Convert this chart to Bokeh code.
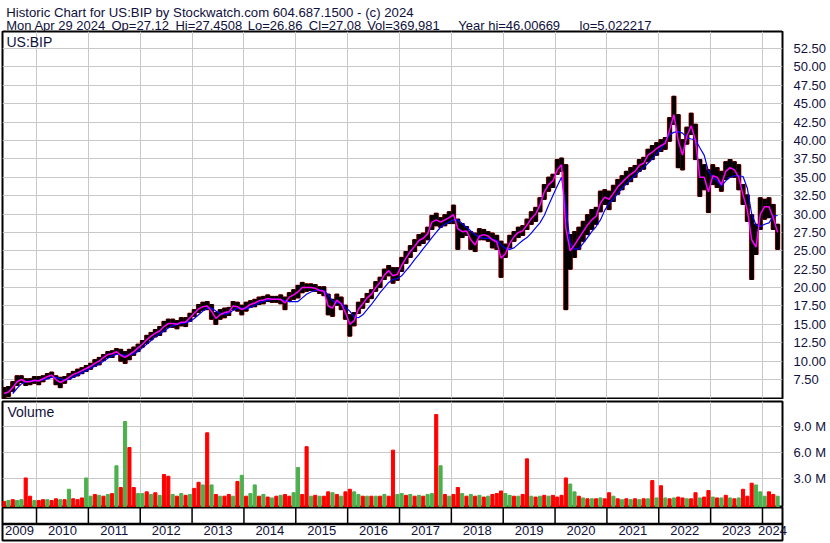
import math
from bokeh.plotting import figure
from bokeh.layouts import column
from bokeh.models import Range1d, FixedTicker, Span, Label, PrintfTickFormatter
from bokeh.core.properties import value
from bokeh.embed import file_html
from bokeh.resources import INLINE

# ---------------- texts ----------------
title_line = "Historic Chart for US:BIP by Stockwatch.com 604.687.1500 - (c) 2024"
quote_fields = ["Mon Apr 29 2024", "Op=27.12", "Hi=27.4508", "Lo=26.86", "Cl=27.08",
                "Vol=369,981", "Year hi=46.00669", "lo=5.022217"]
symbol_label = "US:BIP"
volume_label = "Volume"

# ---------------- axes ----------------
year_labels = ["2009", "2010", "2011", "2012", "2013", "2014", "2015", "2016",
               "2017", "2018", "2019", "2020", "2021", "2022", "2023", "2024"]
year_starts = [2010, 2011, 2012, 2013, 2014, 2015, 2016, 2017, 2018, 2019,
               2020, 2021, 2022, 2023, 2024]
price_ticks = [7.5, 10.0, 12.5, 15.0, 17.5, 20.0, 22.5, 25.0, 27.5, 30.0, 32.5,
               35.0, 37.5, 40.0, 42.5, 45.0, 47.5, 50.0, 52.5]
volume_ticks = [3, 6, 9]
first_month = 5  # data begins May 2009

# ---------------- monthly data ----------------
price_high = {
    2009: [6.4, 6.55, 7.2, 8.0, 8.0, 7.6, 7.6, 7.9],
    2010: [7.9, 8.0, 8.3, 8.5, 8.0, 7.8, 7.9, 8.3, 8.6, 8.9, 9.1, 9.4],
    2011: [9.7, 10.2, 10.5, 10.9, 11.3, 11.4, 11.7, 11.6, 11.3, 11.6, 11.9, 12.3],
    2012: [12.8, 13.5, 13.9, 14.3, 14.7, 15.4, 15.7, 15.7, 15.5, 15.9, 15.9, 16.5],
    2013: [17.0, 17.7, 18.0, 18.1, 17.7, 16.6, 17.0, 17.2, 17.3, 18.1, 18.0, 17.6],
    2014: [18.0, 18.2, 18.4, 18.7, 18.8, 19.0, 18.8, 18.8, 19.0, 18.7, 19.3, 19.7],
    2015: [20.3, 20.7, 20.5, 20.5, 20.4, 20.1, 20.1, 19.1, 18.4, 19.1, 18.7, 17.6],
    2016: [16.3, 16.6, 18.0, 18.5, 19.2, 19.7, 20.8, 21.4, 22.5, 23.0, 22.7, 22.7],
    2017: [24.1, 24.9, 25.7, 26.5, 27.2, 27.4, 28.2, 29.8, 30.1, 29.5, 29.9, 30.3],
    2018: [31.2, 29.3, 28.7, 28.3, 27.6, 27.4, 28.0, 27.9, 27.6, 27.4, 27.1, 26.3],
    2019: [25.9, 27.1, 27.6, 28.2, 28.4, 29.3, 30.3, 30.9, 32.2, 34.0, 35.0, 35.4],
    2020: [37.4, 37.6, 36.7, 27.2, 27.6, 28.2, 29.0, 29.9, 30.6, 30.9, 33.1, 33.3],
    2021: [33.1, 33.9, 34.7, 35.2, 35.8, 36.3, 36.6, 37.4, 37.7, 38.8, 39.3, 39.7],
    2022: [40.1, 40.4, 43.1, 46.0, 43.5, 40.1, 41.8, 43.7, 42.2, 37.4, 36.7, 36.0],
    2023: [36.7, 36.3, 35.8, 37.1, 37.4, 37.1, 36.7, 34.0, 32.6, 29.9, 28.6, 32.2],
    2024: [32.0, 32.2, 31.3, 28.6],
}
price_low = {
    2009: [5.02, 5.2, 5.9, 6.7, 7.1, 6.7, 6.8, 7.0],
    2010: [6.8, 7.2, 7.6, 7.8, 6.8, 6.4, 7.0, 7.5, 7.8, 8.0, 8.3, 8.6],
    2011: [8.9, 9.3, 9.5, 10.1, 10.5, 10.5, 10.9, 10.0, 9.7, 10.2, 10.8, 11.3],
    2012: [11.9, 12.4, 12.9, 13.3, 13.5, 14.0, 14.6, 14.6, 14.4, 14.8, 14.7, 15.4],
    2013: [16.1, 16.6, 16.9, 17.0, 15.7, 15.0, 15.7, 15.9, 16.2, 17.0, 16.8, 16.3],
    2014: [16.8, 17.3, 17.4, 17.7, 17.8, 18.1, 18.0, 18.0, 17.8, 17.0, 18.1, 18.4],
    2015: [18.6, 19.3, 19.5, 19.6, 19.5, 19.2, 18.9, 16.3, 16.1, 17.6, 17.0, 15.7],
    2016: [13.4, 14.8, 16.5, 17.2, 18.0, 18.5, 19.5, 20.0, 21.1, 21.6, 20.6, 21.0],
    2017: [22.2, 23.3, 24.1, 24.9, 25.7, 26.0, 26.5, 27.9, 28.4, 28.2, 28.4, 28.7],
    2018: [28.7, 25.2, 26.8, 27.1, 25.2, 24.9, 26.5, 26.5, 26.3, 25.4, 25.2, 21.4],
    2019: [24.1, 25.4, 26.3, 26.8, 27.1, 27.9, 28.6, 29.0, 30.3, 32.0, 33.1, 33.6],
    2020: [35.4, 35.8, 17.0, 22.5, 24.1, 25.2, 26.3, 27.2, 27.9, 28.6, 30.3, 31.3],
    2021: [30.6, 31.7, 32.7, 33.3, 34.0, 34.4, 35.0, 35.8, 36.1, 37.1, 37.4, 38.0],
    2022: [38.5, 38.8, 39.9, 42.2, 36.3, 36.0, 39.5, 40.8, 37.4, 32.4, 33.3, 30.2],
    2023: [34.0, 33.6, 33.1, 34.7, 35.0, 35.0, 33.3, 31.3, 29.0, 21.1, 24.5, 27.9],
    2024: [29.3, 29.5, 27.9, 25.2],
}
ma_fast = {
    2009: [5.6, 5.8, 6.4, 7.2, 7.5, 7.2, 7.2, 7.4],
    2010: [7.3, 7.6, 7.9, 8.1, 7.5, 7.1, 7.4, 7.8, 8.2, 8.4, 8.7, 9.0],
    2011: [9.3, 9.7, 10.0, 10.5, 10.9, 11.0, 11.3, 10.8, 10.5, 10.9, 11.3, 11.8],
    2012: [12.3, 12.9, 13.4, 13.8, 14.1, 14.7, 15.1, 15.1, 15.0, 15.3, 15.3, 15.9],
    2013: [16.5, 17.1, 17.4, 17.5, 16.8, 15.8, 16.3, 16.6, 16.7, 17.5, 17.4, 17.0],
    2014: [17.3, 17.7, 17.9, 18.2, 18.3, 18.5, 18.4, 18.4, 18.4, 17.9, 18.7, 19.0],
    2015: [19.4, 20.0, 20.0, 20.0, 19.9, 19.6, 19.5, 17.5, 17.2, 18.3, 17.8, 16.6],
    2016: [15.0, 15.5, 17.1, 17.8, 18.6, 19.1, 20.0, 20.7, 21.7, 22.3, 21.6, 21.8],
    2017: [23.0, 24.0, 24.9, 25.6, 26.4, 26.7, 27.3, 28.9, 29.2, 28.9, 29.2, 29.5],
    2018: [29.9, 28.0, 27.6, 27.7, 26.5, 25.8, 27.0, 27.2, 27.0, 26.5, 26.2, 24.0],
    2019: [24.6, 26.0, 26.9, 27.5, 27.7, 28.5, 29.4, 30.0, 31.2, 33.0, 34.0, 34.5],
    2020: [36.0, 36.7, 28.0, 25.0, 25.8, 26.7, 27.6, 28.5, 29.2, 29.7, 31.5, 32.3],
    2021: [32.0, 32.8, 33.7, 34.3, 34.9, 35.4, 35.8, 36.6, 36.9, 38.0, 38.4, 38.9],
    2022: [39.3, 39.6, 41.4, 43.5, 40.0, 38.0, 40.6, 42.0, 40.0, 35.0, 35.0, 33.0],
    2023: [35.2, 35.0, 34.0, 35.8, 36.3, 36.0, 35.0, 32.6, 30.5, 26.5, 25.5, 30.0],
    2024: [31.0, 31.0, 29.5, 27.5],
}
ma_slow = {
    2009: [None, None, 5.6, 6.3, 6.9, 7.2, 7.3, 7.3],
    2010: [7.4, 7.4, 7.6, 7.8, 7.8, 7.6, 7.4, 7.5, 7.8, 8.1, 8.4, 8.7],
    2011: [9.0, 9.3, 9.6, 10.0, 10.4, 10.7, 10.9, 10.9, 10.8, 10.8, 11.0, 11.3],
    2012: [11.8, 12.3, 12.8, 13.3, 13.7, 14.1, 14.5, 14.8, 15.0, 15.1, 15.2, 15.4],
    2013: [15.8, 16.3, 16.8, 17.2, 17.2, 16.8, 16.5, 16.4, 16.5, 16.9, 17.2, 17.2],
    2014: [17.1, 17.3, 17.6, 17.9, 18.1, 18.3, 18.4, 18.4, 18.4, 18.2, 18.1, 18.1],
    2015: [18.1, 18.6, 19.1, 19.4, 19.6, 19.7, 19.6, 19.0, 18.2, 17.9, 17.9, 17.3],
    2016: [16.8, 16.0, 15.9, 16.3, 17.0, 17.7, 18.5, 19.3, 20.0, 20.7, 21.1, 21.2],
    2017: [21.6, 22.3, 23.0, 23.8, 24.5, 25.3, 26.0, 26.8, 27.5, 28.2, 28.6, 28.9],
    2018: [29.2, 29.2, 28.7, 28.2, 27.7, 27.2, 26.8, 26.7, 26.7, 26.6, 26.4, 25.8],
    2019: [25.3, 25.2, 25.4, 25.9, 26.4, 26.8, 27.4, 28.1, 28.8, 29.8, 31.2, 32.5],
    2020: [33.8, 35.0, 31.0, 26.0, 25.2, 25.3, 26.0, 26.8, 27.6, 28.3, 29.2, 30.5],
    2021: [31.5, 32.0, 32.8, 33.5, 34.1, 34.7, 35.2, 35.8, 36.3, 36.9, 37.5, 38.2],
    2022: [38.8, 39.8, 40.8, 41.1, 41.2, 41.0, 40.4, 40.2, 40.1, 39.0, 38.0, 35.8],
    2023: [34.9, 34.6, 33.8, 34.5, 35.0, 35.2, 35.2, 35.1, 33.5, 30.0, 28.5, 28.3],
    2024: [28.6, 28.8, 29.7, 29.8],
}
volume_m = {
    2009: [0.4, 0.5, 0.6, 0.5, 0.6, 3.1, 1.0, 0.5],
    2010: [0.5, 0.6, 0.6, 0.5, 0.7, 0.6, 0.6, 1.8, 0.7, 0.6, 0.8, 3.1],
    2011: [1.0, 1.2, 1.1, 1.0, 1.2, 1.3, 4.5, 2.0, 9.6, 6.6, 2.0, 1.3],
    2012: [1.3, 1.5, 1.2, 1.4, 1.1, 3.5, 3.3, 1.2, 1.0, 1.3, 1.1, 1.2],
    2013: [1.9, 2.6, 2.3, 8.3, 2.3, 1.2, 1.0, 1.0, 1.2, 1.0, 2.7, 3.4],
    2014: [1.0, 1.3, 2.3, 1.0, 1.2, 0.9, 0.8, 1.0, 1.1, 1.2, 1.0, 1.4],
    2015: [4.3, 1.2, 6.7, 1.0, 1.1, 1.0, 1.0, 1.5, 1.4, 1.2, 1.0, 1.5],
    2016: [1.8, 1.5, 1.2, 1.0, 1.0, 1.0, 1.0, 1.0, 1.2, 1.0, 6.3, 1.2],
    2017: [1.3, 1.1, 1.2, 1.0, 1.1, 1.0, 1.2, 1.3, 10.4, 4.5, 1.2, 1.0],
    2018: [1.2, 2.0, 1.3, 1.0, 1.2, 1.0, 1.1, 0.9, 1.0, 1.2, 1.3, 1.6],
    2019: [1.3, 1.1, 1.0, 1.0, 1.2, 5.3, 1.0, 0.9, 1.0, 1.1, 1.0, 1.1],
    2020: [0.9, 1.1, 3.1, 2.4, 1.5, 1.0, 0.8, 0.7, 0.7, 0.7, 0.8, 0.7],
    2021: [1.4, 1.0, 0.7, 0.6, 0.7, 0.6, 0.7, 0.6, 0.7, 0.7, 2.8, 0.8],
    2022: [2.2, 0.8, 0.7, 0.8, 0.9, 0.8, 0.7, 0.7, 1.4, 0.8, 0.9, 1.65],
    2023: [0.9, 0.8, 0.8, 1.1, 0.8, 0.7, 0.8, 1.8, 1.0, 2.5, 2.3, 1.5],
    2024: [1.0, 1.5, 1.2, 1.0],
}
volume_dir = {  # g = up-day volume, r = down-day volume
    2009: "rgrggrrg", 2010: "rrgrrgrgrrrg", 2011: "grgrgrgrgrrg",
    2012: "grgrgrrgrgrg", 2013: "rrgrgrgrrgrg", 2014: "rggrgrgrgrrg",
    2015: "grrgrgrrgrgr", 2016: "rggrgrgrgrrg", 2017: "grgrgrggrgrg",
    2018: "rrgrgrgrgrrr", 2019: "ggrgrrgrgrgr", 2020: "rrrggrgrgrgr",
    2021: "rgrgrgrgrgrg", 2022: "rgrgrrgrrgrr", 2023: "grgrgrgrrrgg",
    2024: "grrg",
}

# ---------------- assemble monthly series ----------------
xs, hi, lo, fast, slow, vol, vcol = [], [], [], [], [], [], []
for yr in sorted(price_high):
    m0 = first_month if yr == min(price_high) else 1
    for k in range(len(price_high[yr])):
        xs.append(yr + (m0 + k - 1) / 12.0 + 1.0 / 24.0)
        hi.append(price_high[yr][k])
        lo.append(price_low[yr][k])
        fast.append(ma_fast[yr][k])
        s = ma_slow[yr][k]
        slow.append(float("nan") if s is None else s)
        vol.append(volume_m[yr][k])
        vcol.append("#4cb04c" if volume_dir[yr][k] == "g" else "#ff0000")

# ---------------- styling ----------------
FONT = "Liberation Sans"
TXT = "#10103c"
GRID = "#c8c8c8"
FRAME_W = 780
LEFT, RIGHT = 2, 48
TOTAL_W = LEFT + FRAME_W + RIGHT
x_range = Range1d(2009.344, 2024.386)
price_range = Range1d(4.92, 54.81)
vol_range = Range1d(-0.3, 11.9)


def panel(fh, top, bottom, y_range, right_axis=True, bottom_axis=False):
    p = figure(frame_width=FRAME_W, frame_height=fh, x_range=x_range, y_range=y_range,
               x_axis_location="below" if bottom_axis else None,
               y_axis_location="right" if right_axis else None,
               output_backend="svg", toolbar_location=None,
               min_border_left=LEFT, min_border_right=RIGHT,
               min_border_top=top, min_border_bottom=bottom,
               background_fill_color="white", border_fill_color="white")
    p.outline_line_color = "black"
    p.outline_line_width = 2
    p.xgrid.ticker = FixedTicker(ticks=year_starts)
    p.xgrid.grid_line_color = GRID
    p.ygrid.grid_line_color = GRID
    if right_axis:
        ax = p.yaxis[0]
        ax.axis_line_color = None
        ax.major_tick_line_color = None
        ax.minor_tick_line_color = None
        ax.major_label_text_font = FONT
        ax.major_label_text_font_size = "13px"
        ax.major_label_text_color = TXT
        ax.major_label_standoff = 5
    return p


# header
header = figure(width=TOTAL_W, height=31, x_range=Range1d(0, TOTAL_W),
                y_range=Range1d(0, 31), x_axis_location=None, y_axis_location=None,
                output_backend="svg", toolbar_location=None, min_border=0,
                background_fill_color="white", border_fill_color="white")
header.outline_line_color = None
header.xgrid.visible = False
header.ygrid.visible = False
header.text(x=[4], y=[19], text=[title_line], text_font=value(FONT),
            text_font_size="13.2px", text_color=TXT, text_baseline="alphabetic")
field_x = [4, 116, 184, 261, 326, 388, 485, 614]
header.text(x=field_x, y=[6.5] * len(field_x), text=quote_fields, text_font=value(FONT),
            text_font_size="13px", text_color=TXT, text_baseline="alphabetic")
header.add_layout(Span(location=0, dimension="width", line_color="black", line_width=2))

# price panel
pp = panel(367, 0, 1, price_range)
pp.yaxis.ticker = FixedTicker(ticks=price_ticks)
pp.ygrid.ticker = FixedTicker(ticks=price_ticks)
pp.yaxis.formatter = PrintfTickFormatter(format="%.2f")
pp.vbar(x=xs, top=hi, bottom=lo, width=1.0 / 12.0, color="#ff0000")
pp.vbar(x=xs, top=hi, bottom=lo, width=0.064, color="black")
pp.line(xs, slow, color="#0000ff", line_width=1.2)
pp.line(xs, fast, color="#ff00ff", line_width=1.5)
pp.add_layout(Label(x=2009.42, y=54.5, text=symbol_label, text_font=FONT,
                    text_font_size="14px", text_color=TXT, text_baseline="top"))

# volume panel
vp = panel(106, 2, 0, vol_range)
vp.yaxis.ticker = FixedTicker(ticks=volume_ticks)
vp.ygrid.ticker = FixedTicker(ticks=volume_ticks)
vp.yaxis.formatter = PrintfTickFormatter(format="%.1f M")
vp.vbar(x=xs, top=vol, bottom=vol_range.start, width=0.06, color=vcol)
vp.add_layout(Label(x=2009.44, y=11.6, text=volume_label, text_font=FONT,
                    text_font_size="14px", text_color=TXT, text_baseline="top"))

# date axis panel: tick row + label row; year names drawn by a real axis
dp = panel(33, 0, 2, Range1d(0, 2), right_axis=False, bottom_axis=True)
dp.xgrid.visible = False
dp.ygrid.visible = False
dp.add_layout(Span(location=1, dimension="width", line_color="black", line_width=2.5))
dp.segment(x0=year_starts, y0=[1] * len(year_starts), x1=year_starts, y1=[2] * len(year_starts),
           color="black", line_width=1.5)
label_pos = []
for lab in year_labels:
    a = max(float(lab), x_range.start)
    b = min(float(lab) + 1, x_range.end)
    label_pos.append(round((a + b) / 2, 4))
xa = dp.xaxis[0]
xa.ticker = FixedTicker(ticks=label_pos)
xa.major_label_overrides = {pos: lab for pos, lab in zip(label_pos, year_labels)}
xa.axis_line_color = None
xa.major_tick_line_color = None
xa.minor_tick_line_color = None
xa.major_tick_out = 0
xa.major_tick_in = 0
xa.major_label_standoff = -15
xa.major_label_text_font = FONT
xa.major_label_text_font_size = "13px"
xa.major_label_text_color = TXT

layout = column(header, pp, vp, dp, spacing=0)
open("out.html", "w").write(file_html(layout, INLINE))
